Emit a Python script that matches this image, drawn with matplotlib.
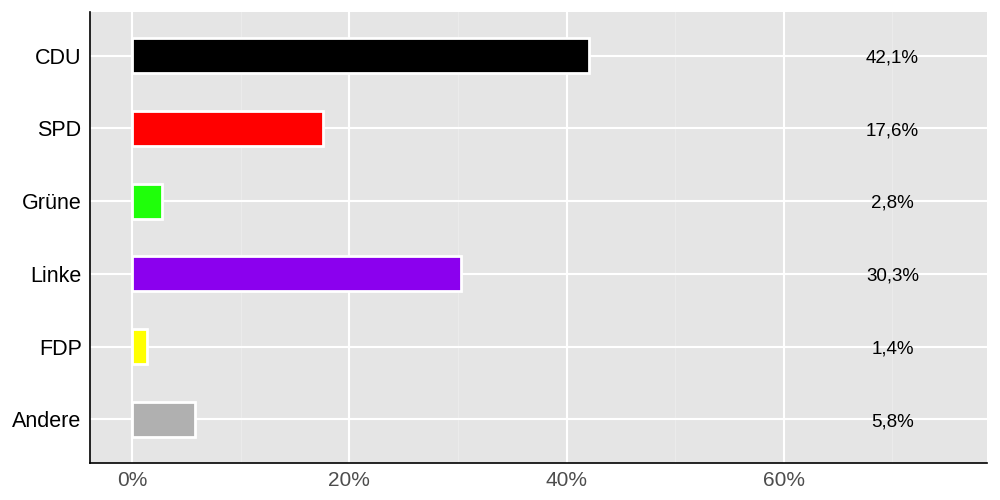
import matplotlib.pyplot as plt
from matplotlib.ticker import MultipleLocator, FuncFormatter

plt.rcParams['font.family'] = ['Liberation Sans', 'DejaVu Sans']

parties = ['CDU', 'SPD', 'Grüne', 'Linke', 'FDP', 'Andere']
shares = [42.1, 17.6, 2.8, 30.3, 1.4, 5.8]
colors = ['#000000', '#ff0000', '#1fff0a', '#8b00ee', '#ffff00', '#b0b0b0']
labels = ['42,1%', '17,6%', '2,8%', '30,3%', '1,4%', '5,8%']

fig = plt.figure(figsize=(10, 5), dpi=100)
ax = fig.add_axes([0.09, 0.074, 0.897, 0.902])
ax.set_facecolor('#e5e5e5')

ypos = list(range(len(parties)))[::-1]
ax.barh(ypos, shares, height=0.48, color=colors, edgecolor='white', linewidth=2, zorder=3)

# value labels sit in a column at the right
for y, lab in zip(ypos, labels):
    ax.text(70, y - 0.03, lab, ha='center', va='center', fontsize=13.5, color='black', zorder=4)

ax.set_xlim(-3.87, 78.7)
ax.set_ylim(-0.6, 5.6)
ax.set_yticks(ypos)
ax.set_yticklabels(parties, fontsize=15.5, color='black')
ax.xaxis.set_major_locator(MultipleLocator(20))
ax.xaxis.set_minor_locator(MultipleLocator(10))
ax.xaxis.set_major_formatter(FuncFormatter(lambda v, p: f'{v:.0f}%'))
ax.tick_params(axis='x', labelsize=15, labelcolor='#4d4d4d', length=0, pad=6)
ax.tick_params(axis='y', length=0, pad=6)
ax.tick_params(axis='x', which='minor', length=0)

ax.grid(True, which='major', color='white', linewidth=1.5, zorder=0)
ax.grid(True, which='minor', axis='x', color='#ebebeb', linewidth=0.8, zorder=0)
ax.set_axisbelow(True)

for side in ['top', 'right']:
    ax.spines[side].set_visible(False)
for side in ['left', 'bottom']:
    ax.spines[side].set_color('black')
    ax.spines[side].set_linewidth(1.2)

plt.savefig('out.png', dpi=100)
plt.close()
